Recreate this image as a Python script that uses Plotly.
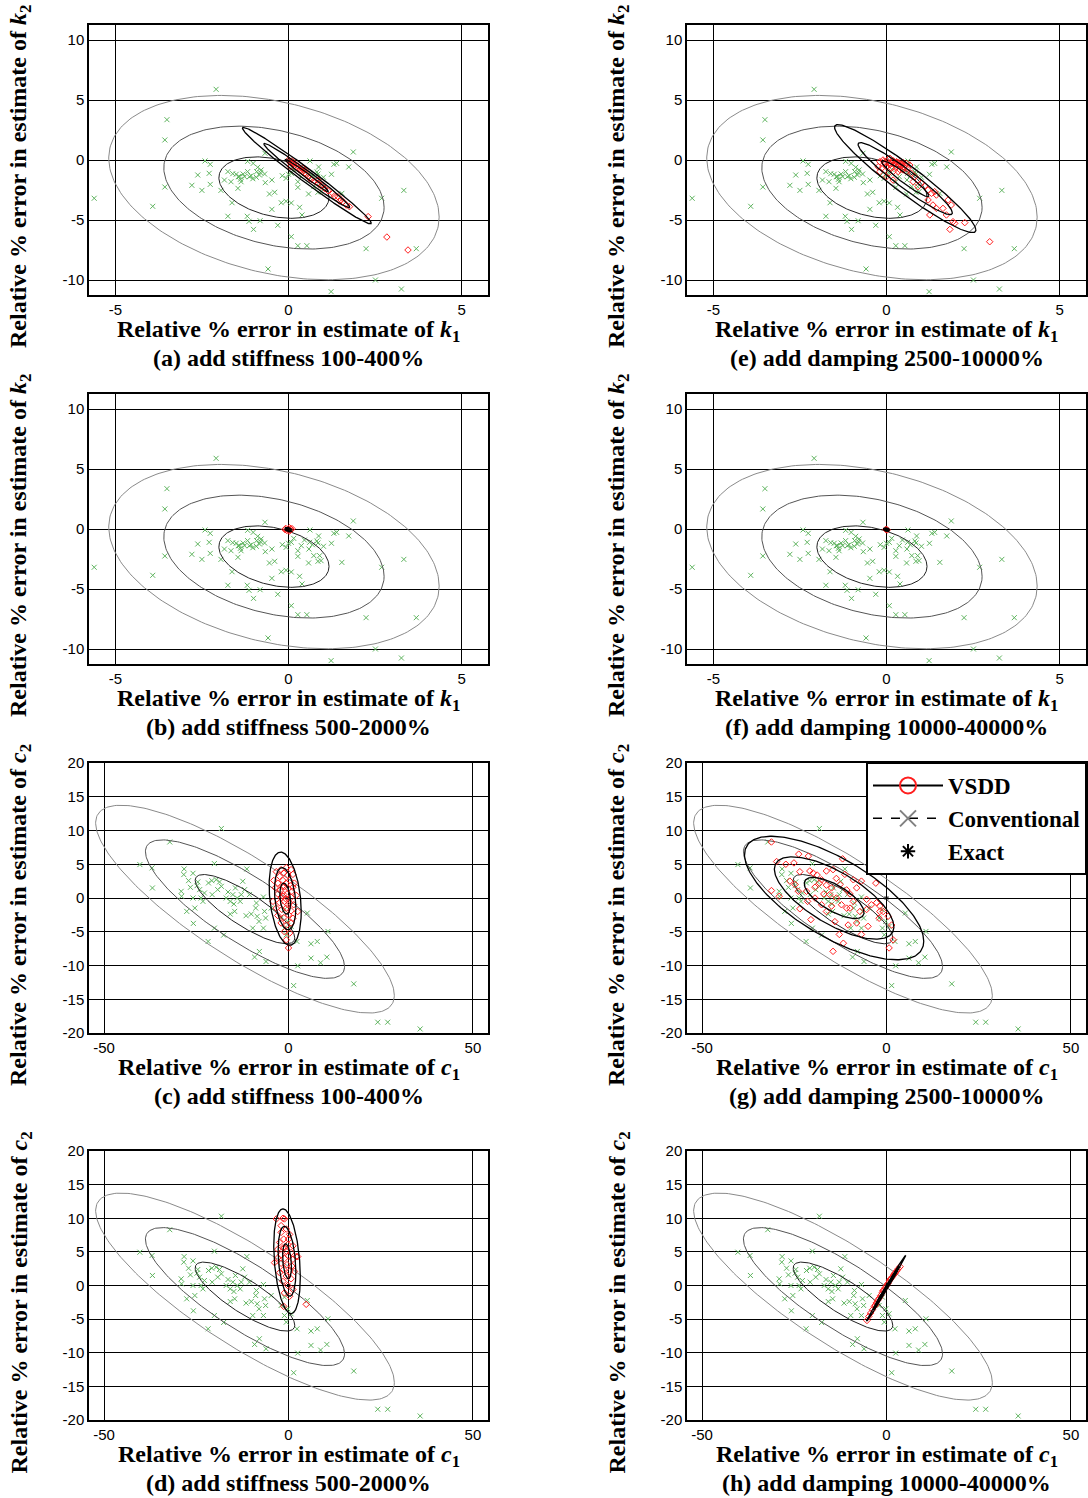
import numpy as np
import plotly.graph_objects as go

W, H = 1088, 1498

# ---------------- data: relative % errors ----------------
# Conventional identification (same Monte-Carlo runs for every case)
conv_k1 = [-2.09, -3.51, -3.57, -5.61, -3.92, -3.57, 1.87, -2.41, -2.26, -2.62, -2.29, -2.79, -2.50, -2.26,
           -1.95, -1.75, -1.61, -1.85, -1.66, -1.42, -1.37, -1.18, -1.27, -1.13, -1.46, -1.63, -1.75, -1.19,
           -1.14, -0.82, -1.01, -0.31, -1.18, -1.02, -0.68, -0.92, -0.79, -0.93, -0.69, -0.67, -0.48, -0.55,
           -0.40, -0.48, -0.21, -0.07, 0.08, -0.18, -0.07, 0.00, 0.08, 0.27, 0.53, -0.59, 1.23, 2.24, 2.51,
           3.26, 3.69, 3.33, 2.69, 1.74, 1.31, 1.39, 1.24, 0.87, 0.62, 1.01, 0.82, 0.59, 0.27, 0.27, 0.58,
           0.85, 1.54, 0.32, 0.39, 0.69, 0.90, -1.51, -1.45, -1.39, -1.31, -1.08, -1.03, -0.84, -0.81, -0.89,
           0.08, 0.15, 0.46, 0.73, 0.85, 0.61, 0.37, 0.94]
conv_k2 = [5.89, 3.36, 1.67, -3.19, -3.86, -2.25, 0.67, -0.08, -0.36, -1.25, -1.11, -2.11, -2.53, -2.03,
           -2.53, -0.97, -1.14, -1.67, -1.81, -1.39, -1.81, -0.97, -1.39, -1.39, -2.36, -3.56, -4.69, -4.69,
           -5.11, -5.06, -5.78, -5.44, -0.11, -0.28, 0.56, -0.97, -0.83, -1.44, -1.17, -1.89, -1.67, -2.83,
           -2.69, -4.11, -3.56, -3.44, -3.58, -1.31, -1.53, -1.19, -6.39, -7.14, -7.14, -9.08, -10.97, -7.39,
           -10.00, -10.75, -7.39, -2.53, -3.19, -0.58, -0.36, -0.28, -1.19, -0.58, -0.08, -1.44, -1.00, -1.67,
           -1.81, -2.28, -2.83, -2.69, -2.78, -3.94, -4.58, -1.31, -2.22, -1.19, -1.39, -1.61, -1.17, -1.31,
           -1.56, -1.25, -1.06, -0.61, -1.11, -0.78, -0.92, -2.22, -1.17, -1.11, -1.39, -2.64]

conv_c1 = [-18.2, -32.2, -40.3, -37.0, -36.9, -28.3, -28.4, -25.9, -27.1, -29.1, -29.0, -26.6, -24.6, -24.8,
           -27.6, -25.8, -25.4, -23.7, -20.1, -21.7, -20.8, -19.6, -18.7, -18.2, -20.7, -22.8, -20.1, -21.8,
           -17.6, -16.4, -15.1, -15.8, -14.8, -15.8, -14.4, -13.9, -12.8, -12.4, -11.9, -13.1, -11.3, -10.6,
           -11.5, -10.1, -9.7, -8.7, -8.9, -8.5, -8.0, -6.8, -6.5, -6.2, -6.8, -9.2, -7.9, -6.1, -4.7, -1.1,
           -0.6, -0.2, 0.7, 2.3, 2.5, 1.4, 5.1, 6.1, 7.8, 6.1, 8.7, 10.4, 10.7, 17.7, 24.2, 26.9, 35.7,
           -23.2, -25.9, -24.1, -19.2, -16.9, -14.6, -2.0, -1.1]
conv_c2 = [10.3, 8.3, 4.95, 4.46, 1.49, 4.3, 3.47, 3.66, 2.57, 0.99, 0.25, 1.58, 2.38, 1.83,
           -1.98, -3.76, -1.49, 0.0, 5.1, 2.23, 2.57, 2.72, 2.38, 1.73, 0.5, 0.74, -4.46, -6.44,
           -5.5, 0.89, 0.5, -0.5, -0.89, -2.38, 1.49, 0.0, 0.5, 2.48, 1.24, -0.5, 4.3, 0.5,
           -2.62, -2.38, -4.46, -0.74, -1.49, -2.72, -3.47, 0.15, -1.98, -2.97, -4.46, -8.76, -7.92, -9.41, -1.49, -4.46,
           -5.45, -3.47, -4.21, -6.44, -10.05, -12.97, -2.23, -6.78, -6.44, -8.91, -9.6, -8.76, -4.95, -12.72, -18.4, -18.4, -19.4,
           -0.5, 0.0, 1.24, 1.24, 0.0, -1.98, -2.97, -1.73]

# VSDD identification, one set per case
vsdd_a_k1 = [0.00, 0.10, 0.03, 0.08, 0.13, 0.17, 0.06, 0.22, 0.27, 0.32, 0.37, 0.41, 0.46, 0.51, 0.56, 0.61,
             0.66, 0.75, 0.85, 0.94, 1.04, 1.14, 1.28, 1.43, 1.52, 1.57, 1.67, 1.76, 0.27, 0.41, 0.48, 0.15,
             0.85, 0.99, 1.33, 1.47, 2.30, 2.84, 3.45]
vsdd_a_k2 = [0.00, -0.08, -0.14, -0.28, -0.33, -0.47, -0.56, -0.61, -0.69, -0.83, -0.89, -0.97, -1.11, -1.17,
             -1.39, -1.53, -1.61, -1.78, -1.94, -2.17, -2.36, -2.56, -2.78, -3.06, -3.33, -3.47, -3.75, -3.89,
             -0.50, -0.69, -0.83, -0.22, -1.67, -2.08, -3.00, -3.42, -4.72, -6.42, -7.50]

vsdd_b_k1 = [0.00, -0.08, 0.05, 0.10, -0.05, 0.03, 0.08, -0.10, 0.02]
vsdd_b_k2 = [0.00, 0.05, -0.10, 0.03, -0.12, 0.10, -0.05, -0.05, -0.18]

vsdd_e_k1 = [-0.19, -0.10, -0.05, 0.05, 0.10, 0.19, 0.24, 0.29, 0.38, 0.43, 0.48, 0.53, 0.58, 0.67, -0.24,
             -0.14, 0.00, 0.14, 0.29, 0.38, -0.19, 0.05, 0.19, 0.34, 0.48, 0.62, 0.72, 0.82, 0.91, 1.01,
             1.10, 1.20, 1.30, 1.39, 1.44, 1.20, 1.34, 1.44, 1.25, 1.63, 1.73, 1.78, 1.87, 1.92, 1.83,
             1.97, 2.26, 2.98, 0.00, 0.19, 0.77, 0.91, 0.10, -0.08, 0.58, 0.20, 0.30, 0.40, 0.10, 0.50,
             0.45, 0.35, 0.25]
vsdd_e_k2 = [-0.14, 0.00, -0.28, 0.06, -0.22, -0.06, -0.33, -0.14, -0.28, -0.50, -0.22, -0.44, -0.28, -0.42, -0.56,
             -0.69, -0.56, -0.69, -0.56, -0.78, -0.97, -1.11, -0.97, -0.97, -0.83, -0.69, -1.11, -1.39, -1.67, -1.94,
             -2.17, -2.50, -2.78, -2.64, -2.92, -3.33, -3.75, -4.03, -4.58, -4.03, -4.58, -3.33, -3.75, -5.14, -5.78,
             -5.28, -5.22, -6.81, -1.39, -1.67, -1.81, -2.22, 0.14, -0.14, -0.97, -0.10, -0.20, -0.10, -0.40, -0.60,
             -0.35, -0.45, -0.25]

vsdd_f_k1 = [0.00, 0.02, -0.02]
vsdd_f_k2 = [-0.05, -0.08, -0.03]

vsdd_c_c1 = [-3.3, -2.0, -0.6, 0.7, -1.3, -2.4, -0.2, 1.2, -4.0, -2.9, -1.5, -0.6, 0.3, 1.6, -3.6, -2.2, -1.1,
             0.0, 0.9, -2.9, -1.5, -0.4, 0.7, 2.1, -4.2, -2.4, -1.1, 0.3, 1.4, -3.3, -1.8, -0.6, 0.7, 2.5,
             -2.9, -1.3, 0.0, 1.2, -2.0, -0.5, 0.7, -1.1, 0.3, -0.6, 0.0, -1.3, -0.8, -1.7, -0.2, -2.0, 1.2]
vsdd_c_c2 = [3.9, 4.2, 4.5, 4.2, 3.7, 3.2, 3.4, 3.5, 2.6, 2.2, 2.6, 2.2, 2.6, 2.2, 1.5, 1.2, 1.7,
             1.4, 1.0, 0.6, 0.25, 0.6, 0.1, 0.4, -0.5, -0.7, -0.5, -0.7, -1.0, -1.5, -1.7, -1.5, -1.9, -2.0,
             -2.6, -2.9, -2.5, -3.0, -3.7, -4.0, -3.7, -5.0, -5.2, -6.2, -7.4, 0.5, -0.1, 1.7, -1.0, 0.0, 1.6]

vsdd_d_c1 = [-1.5, -1.1, -3.3, -0.6, -2.0, 0.3, -1.3, -2.4, -0.2, 1.2, -1.5, -2.9, -0.6, 0.7, 2.5, -2.0,
             0.0, -1.1, 1.2, -3.8, -2.0, -0.4, 0.9, -1.3, 0.3, 1.6, -2.4, -0.6, 0.7, -1.5, -0.2, 1.2,
             -1.1, 0.3, -1.3, 4.8, 2.1, -2.9, -1.1, 0.0, -2.0]
vsdd_d_c2 = [10.0, 9.9, 9.9, 8.4, 7.9, 7.6, 6.9, 6.4, 6.1, 5.9, 5.6, 5.4, 5.1, 4.9, 4.3, 4.6,
             4.4, 4.0, 3.9, 3.4, 3.3, 3.1, 2.9, 2.4, 2.1, 2.1, 1.9, 1.4, 1.0, 0.6, 0.0, -0.6,
             -1.1, -1.6, -3.1, -2.8, 4.3, 4.1, 5.6, 6.9, 8.9]

vsdd_g_c1 = [-31.2, -29.8, -31.2, -29.1, -27.3, -25.1, -23.8, -23.5, -26.2, -24.8, -23.9, -21.2, -20.8, -19.9,
             -18.8, -17.6, -18.2, -19.4, -21.7, -21.4, -20.5, -23.5, -17.0, -16.3, -14.9, -14.5, -13.6, -12.6,
             -11.9, -11.3, -10.8, -9.9, -9.0, -8.1, -6.8, -5.4, -13.6, -14.9, -12.2, -10.8, -9.0, -7.2, -5.4,
             -4.1, -2.7, -1.8, -1.8, -2.0, 1.4, 1.8, 0.7, -14.5, -11.7, -12.8, -10.4, -8.1, -6.8, -5.0, -9.9,
             -14.0, -16.3, -17.6, -19.4, -16.3, -15.4, -2.9, -0.9, 0.45]
vsdd_g_c2 = [8.3, 5.4, 1.1, 0.25, 5.0, 5.2, 6.5, 3.9, 2.5, 2.0, 1.0, 6.2, 4.0, 3.7,
             3.4, 2.7, 2.2, 1.6, 1.0, -0.5, -3.2, -1.6, 0.6, 1.9, 1.5, 4.2, 2.9, 2.0,
             5.8, 3.5, 1.2, 0.6, 2.7, 1.5, 2.5, -0.2, 0.0, -1.2, -1.0, -1.5, -0.5, -2.0, -1.7,
             -1.0, -0.7, -1.2, -2.0, -3.0, -4.0, -6.2, -7.4, -7.9, -6.7, -5.4, -4.0, -3.7, -5.4, -4.2, -1.5,
             -3.5, -2.0, -1.0, 0.0, 4.0, 0.5, 2.2, -2.0, -2.7]

vsdd_h_c1 = [-5.3, -4.8, -4.3, -3.8, -3.3, -2.8, -2.4, -2.0, -1.6, -1.2, -0.8, -0.4, 0.0, 0.4, 0.8, 1.2,
             1.6, 2.0, 2.4, 2.8, 3.2, 3.7, -3.0, -1.0, 1.0, 2.2]
vsdd_h_c2 = [-5.2, -4.6, -4.1, -3.6, -3.1, -2.6, -2.2, -1.9, -1.5, -1.1, -0.7, -0.35, -0.05, 0.3, 0.7, 1.0,
             1.3, 1.6, 1.9, 2.2, 2.5, 2.8, -2.9, -0.8, 0.9, 1.8]

# Confidence-ellipse statistics: [mean x, mean y, std x, std y, correlation]
conv_k_stats = [-0.42, -2.30, 1.59, 2.56, -0.32]
conv_c_stats = [-11.8, -1.65, 13.5, 5.13, -0.83]
vsdd_a_stats = [0.53, -1.30, 0.62, 1.34, -0.985]
vsdd_b_stats = [0.00, -0.05, 0.035, 0.06, -0.4]
vsdd_c_stats = [-0.90, -0.10, 1.45, 2.30, -0.28]
vsdd_d_stats = [-0.40, 3.60, 1.20, 2.60, -0.30]
vsdd_e_stats = [0.54, -1.55, 0.68, 1.50, -0.95]
vsdd_f_stats = [0.00, -0.05, 0.03, 0.05, -0.3]
vsdd_g_stats = [-14.2, 0.00, 8.10, 3.05, -0.70]
vsdd_h_stats = [-0.10, -0.40, 1.77, 1.63, 0.997]
sigma_levels = [1, 2, 3]

k_xticks = [-5, 0, 5]
k_yticks = [-10, -5, 0, 5, 10]
c_xticks = [-50, 0, 50]
c_yticks = [-20, -15, -10, -5, 0, 5, 10, 15, 20]

captions = ["(a) add stiffness 100-400%", "(b) add stiffness 500-2000%",
            "(c) add stiffness 100-400%", "(d) add stiffness 500-2000%",
            "(e) add damping 2500-10000%", "(f) add damping 10000-40000%",
            "(g) add damping 2500-10000%", "(h) add damping 10000-40000%"]

# ---------------- helpers ----------------
def ellipse(stats, k, n=240):
    mx, my, sx, sy, r = stats
    cov = np.array([[sx * sx, r * sx * sy], [r * sx * sy, sy * sy]])
    L = np.linalg.cholesky(cov)
    t = np.linspace(0, 2 * np.pi, n)
    pts = k * L @ np.vstack([np.cos(t), np.sin(t)])
    return pts[0] + mx, pts[1] + my


GREEN = "rgb(95,180,95)"
RED = "rgb(255,30,30)"
SERIF = "Liberation Serif, Times New Roman, serif"
SANS = "Liberation Sans, Arial, sans-serif"

# panel layout (pixel boxes: left, right, top, bottom)
col_x = [(89, 488), (687, 1086)]
row_y = [(25, 295), (394, 664), (763, 1033), (1151, 1420)]

panels = [
    # (col, row, kind, vsdd x, vsdd y, vsdd stats, caption)
    (0, 0, "k", vsdd_a_k1, vsdd_a_k2, vsdd_a_stats, captions[0]),
    (0, 1, "k", vsdd_b_k1, vsdd_b_k2, vsdd_b_stats, captions[1]),
    (0, 2, "c", vsdd_c_c1, vsdd_c_c2, vsdd_c_stats, captions[2]),
    (0, 3, "c", vsdd_d_c1, vsdd_d_c2, vsdd_d_stats, captions[3]),
    (1, 0, "k", vsdd_e_k1, vsdd_e_k2, vsdd_e_stats, captions[4]),
    (1, 1, "k", vsdd_f_k1, vsdd_f_k2, vsdd_f_stats, captions[5]),
    (1, 2, "c", vsdd_g_c1, vsdd_g_c2, vsdd_g_stats, captions[6]),
    (1, 3, "c", vsdd_h_c1, vsdd_h_c2, vsdd_h_stats, captions[7]),
]

conv_colors = ["#222222", "#555555", "#8a8a8a"]


def tick_text(vals):
    return [str(v) for v in vals]


fig = go.Figure()
annotations = []
layout_axes = {}

for i, (col, row, kind, vx, vy, vstats, cap) in enumerate(panels):
    n = i + 1
    xa = "x" if n == 1 else f"x{n}"
    ya = "y" if n == 1 else f"y{n}"
    xl, xr = col_x[col]
    yt, yb = row_y[row]
    if kind == "k":
        cx, cy, cstats = conv_k1, conv_k2, conv_k_stats
        xr_, yr_ = [-5.76, 5.76], [-11.25, 11.25]
        xt, ytk = k_xticks, k_yticks
        sym = "k"
    else:
        cx, cy, cstats = conv_c1, conv_c2, conv_c_stats
        xr_, yr_ = [-54.1, 54.1], [-20, 20]
        xt, ytk = c_xticks, c_yticks
        sym = "c"

    # conventional estimates and their ellipses
    fig.add_trace(go.Scatter(x=cx, y=cy, xaxis=xa, yaxis=ya, mode="markers", showlegend=False,
                             marker=dict(symbol="x-thin", size=5, line=dict(color=GREEN, width=1))))
    for lvl, colr in zip(sigma_levels, conv_colors):
        ex, ey = ellipse(cstats, lvl)
        fig.add_trace(go.Scatter(x=ex, y=ey, xaxis=xa, yaxis=ya, mode="lines", showlegend=False,
                                 line=dict(color=colr, width=1)))
    # exact value
    fig.add_trace(go.Scatter(x=[0], y=[0], xaxis=xa, yaxis=ya, mode="markers", showlegend=False,
                             marker=dict(symbol="asterisk-open", size=4, color="black",
                                         line=dict(color="black", width=1))))
    # VSDD estimates and their ellipses
    fig.add_trace(go.Scatter(x=vx, y=vy, xaxis=xa, yaxis=ya, mode="markers", showlegend=False,
                             marker=dict(symbol="diamond-open", size=5, color=RED, line=dict(width=1))))
    for lvl in sigma_levels:
        ex, ey = ellipse(vstats, lvl)
        fig.add_trace(go.Scatter(x=ex, y=ey, xaxis=xa, yaxis=ya, mode="lines", showlegend=False,
                                 line=dict(color="black", width=1.3)))

    common = dict(showgrid=True, gridcolor="black", gridwidth=1.2, zeroline=False, automargin=False,
                  showline=True, linecolor="black", linewidth=1.5, mirror=True, ticks="",
                  tickfont=dict(family=SANS, size=15, color="black"))
    layout_axes["xaxis" if n == 1 else f"xaxis{n}"] = dict(
        domain=[xl / W, xr / W], range=xr_, tickvals=xt, ticktext=tick_text(xt), anchor=ya, **common)
    layout_axes["yaxis" if n == 1 else f"yaxis{n}"] = dict(
        domain=[1 - yb / H, 1 - yt / H], range=yr_, tickvals=ytk, ticktext=tick_text(ytk), anchor=xa, **common)

    # titles
    xc = (xl + xr) / 2
    annotations.append(dict(text=f"<b>Relative % error in estimate of <i>{sym}</i><sub>1</sub></b>",
                            x=xc / W, y=1 - (yb + 36) / H, xref="paper", yref="paper",
                            xanchor="center", yanchor="middle", showarrow=False,
                            font=dict(family=SERIF, size=24, color="black")))
    annotations.append(dict(text=f"<b>{cap}</b>",
                            x=xc / W, y=1 - (yb + 63) / H, xref="paper", yref="paper",
                            xanchor="center", yanchor="middle", showarrow=False,
                            font=dict(family=SERIF, size=24, color="black")))
    annotations.append(dict(text=f"<b>Relative % error in estimate of <i>{sym}</i><sub>2</sub></b>",
                            x=(xl - 69) / W, y=1 - ((yt + yb) / 2 + 17) / H, xref="paper", yref="paper",
                            xanchor="center", yanchor="middle", showarrow=False, textangle=-90,
                            font=dict(family=SERIF, size=24, color="black")))

# legend entries
fig.add_trace(go.Scatter(x=[None], y=[None], xaxis="x7", yaxis="y7", mode="lines+markers", name="<b>VSDD</b>",
                         line=dict(color="black", width=2),
                         marker=dict(symbol="circle-open", size=16, color=RED, line=dict(width=2))))
fig.add_trace(go.Scatter(x=[None], y=[None], xaxis="x7", yaxis="y7", mode="lines+markers",
                         name="<b>Conventional</b>",
                         line=dict(color="black", width=1.5, dash="dash"),
                         marker=dict(symbol="x-thin-open", size=22, color="gray", line=dict(color="gray", width=2))))
fig.add_trace(go.Scatter(x=[None], y=[None], xaxis="x7", yaxis="y7", mode="markers", name="<b>Exact</b>",
                         marker=dict(symbol="asterisk-open", size=12, color="black",
                                     line=dict(color="black", width=2))))

fig.update_layout(
    width=W, height=H,
    margin=dict(l=0, r=0, t=0, b=0),
    paper_bgcolor="white", plot_bgcolor="white",
    annotations=annotations,
    showlegend=True,
    legend=dict(x=866 / W, y=1 - 762 / H, xanchor="left", yanchor="top",
                bgcolor="white", bordercolor="black", borderwidth=2,
                itemwidth=70, font=dict(family=SERIF, size=23, color="black"),
                itemsizing="trace"),
    **layout_axes,
)

fig.write_html("out.html")
